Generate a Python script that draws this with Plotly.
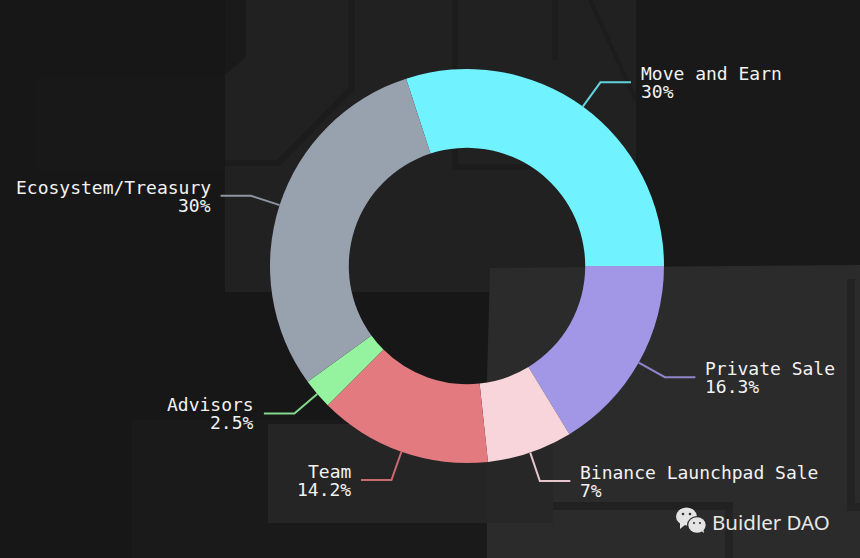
import math
import plotly.graph_objects as go

W, H = 860, 558
categories = ["Move and Earn", "Private Sale", "Binance Launchpad Sale", "Team", "Advisors", "Ecosystem/Treasury"]
values = [30, 16.3, 7, 14.2, 2.5, 30]
colors = ["#70F3FF", "#A197E6", "#F8D5DA", "#E37A80", "#95F3A0", "#98A2AF"]
line_colors = ["#62D3DE", "#8E85CC", "#E6C6CA", "#C96C72", "#84D88E", "#8C95A1"]

CX, CY, R = 467, 266, 197
ROT = -18
FONT = "DejaVu Sans Mono"


def fx(p):
    return p / W


def fy(p):
    return 1 - p / H


def rect(x0, y0, x1, y1, color):
    return dict(type="rect", xref="paper", yref="paper", layer="below",
                x0=fx(x0), x1=fx(x1), y0=fy(y0), y1=fy(y1),
                fillcolor=color, line_width=0)


def poly(pts, color=None, line=None, width=0, layer="below"):
    d = "M " + " L ".join(f"{fx(x):.5f},{fy(y):.5f}" for x, y in pts)
    s = dict(type="path", xref="paper", yref="paper", layer=layer, path=d + (" Z" if color else ""))
    if color:
        s["fillcolor"] = color
    s["line"] = dict(color=line or "rgba(0,0,0,0)", width=width)
    return s


def ell(cx, cy, rx, ry, color, layer="above"):
    return dict(type="circle", xref="paper", yref="paper", layer=layer,
                x0=fx(cx - rx), x1=fx(cx + rx), y0=fy(cy - ry), y1=fy(cy + ry),
                fillcolor=color, line_width=0)


shapes = [
    # faint background collage
    rect(0, 0, W, H, "#171717"),
    rect(35, 78, 225, 170, "#181818"),
    rect(225, 0, 636, 292, "#212121"),
    poly([(636, 0), (860, 0), (860, 266), (665, 266), (640, 170), (636, 150)], "#191919"),
    poly([(225, 0), (246, 0), (246, 57), (225, 75)], "#1a1a1a"),
    poly([(352, 0), (352, 88), (278, 163), (225, 163)], None, "#1c1c1c", 6),
    poly([(455, 0), (455, 167), (590, 167)], None, "#1c1c1c", 6),
    poly([(555, 0), (555, 60)], None, "#1d1d1d", 6),
    poly([(590, 0), (636, 100)], None, "#1c1c1c", 4),
    rect(132, 420, 487, 558, "#1a1a1a"),
    poly([(490, 268), (860, 265), (860, 558), (487, 558), (487, 380)], "#2b2b2b"),
    rect(268, 424, 553, 523, "#252525"),
    rect(487, 424, 553, 523, "#272727"),
    rect(553, 502, 733, 510, "#212121"),
    rect(725, 510, 733, 558, "#232323"),
    rect(847, 279, 855, 511, "#232323"),
    rect(847, 503, 860, 511, "#232323"),
    rect(487, 534, 553, 558, "#2b2b2b"),
    # WeChat mark
    ell(686.5, 516.5, 10.5, 9, "#e4e4e4"),
    poly([(680, 522), (680, 529), (686, 524)], "#e4e4e4", layer="above"),
    ell(697, 525, 10, 9, "#2b2b2b"),
    ell(697, 525, 8.7, 7.7, "#e4e4e4"),
    poly([(700, 530), (704, 533), (703, 527)], "#e4e4e4", layer="above"),
    ell(683, 514, 1.3, 1.3, "#333333"),
    ell(690, 514, 1.3, 1.3, "#333333"),
    ell(694, 523, 1.1, 1.1, "#333333"),
    ell(700, 523, 1.1, 1.1, "#333333"),
]

annotations = []
angle = ROT
for name, val, lc in zip(categories, values, line_colors):
    sweep = val / sum(values) * 360
    mid = math.radians(angle + sweep / 2)
    angle += sweep
    sx, sy = math.sin(mid), -math.cos(mid)
    side = 1 if sx > 0 else -1
    p0 = (CX + R * sx, CY + R * sy)
    p1 = (CX + (R + 30) * sx, CY + (R + 30) * sy)
    p2 = (p1[0] + side * 30.5, p1[1])
    shapes.append(poly([p0, p1, p2], None, lc, 2, layer="above"))
    anchor = "left" if side > 0 else "right"
    tx = p2[0] + side * 10
    for text, dy in ((name, -8.6), (f"{val:g}%", 9.4)):
        annotations.append(dict(
            text=text, x=fx(tx), y=fy(p1[1] + dy), xref="paper", yref="paper",
            xanchor=anchor, yanchor="middle", showarrow=False, borderpad=0, borderwidth=0,
            font=dict(family=FONT, size=18, color="#f2f2f2"),
        ))

annotations.append(dict(
    text="Buidler DAO", x=fx(710), y=fy(522), xref="paper", yref="paper",
    xanchor="left", yanchor="middle", showarrow=False,
    font=dict(family="Noto Sans", size=20.5, color="#e8e8e8"),
))

fig = go.Figure(go.Pie(
    labels=categories, values=values, sort=False, direction="clockwise", rotation=ROT,
    hole=0.6, textinfo="none", showlegend=False,
    marker=dict(colors=colors, line=dict(width=0)),
    domain=dict(x=[fx(CX - R), fx(CX + R)], y=[fy(CY + R), fy(CY - R)]),
))
fig.update_layout(
    width=W, height=H, margin=dict(l=0, r=0, t=0, b=0),
    paper_bgcolor="#171717", plot_bgcolor="#171717",
    shapes=shapes, annotations=annotations,
)
fig.write_html("out.html", config={"displayModeBar": False},
               post_script="document.body.style.margin='0';document.body.style.background='#171717';")
